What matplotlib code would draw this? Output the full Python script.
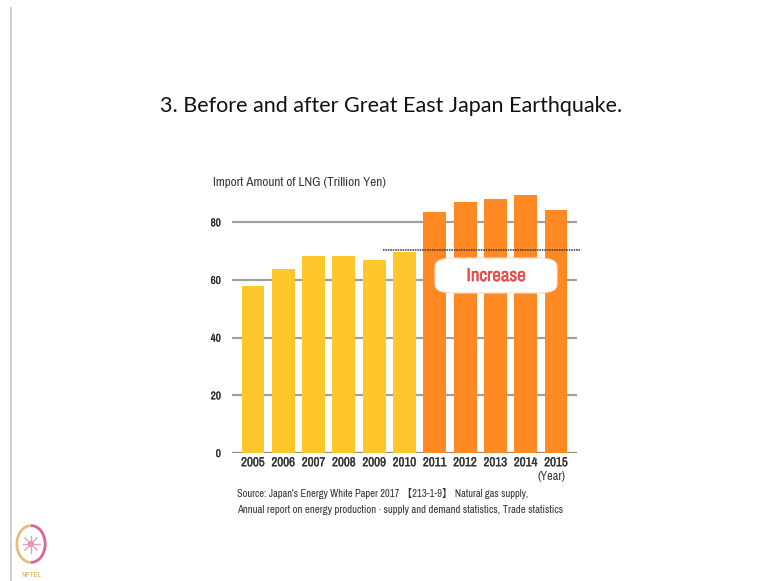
import matplotlib
matplotlib.use("Agg")
import matplotlib.pyplot as plt
from matplotlib.patches import FancyBboxPatch, Arc, Circle
from matplotlib.lines import Line2D
from matplotlib import font_manager as fm
import matplotlib.patheffects as pe
import numpy as np

years = ["2005", "2006", "2007", "2008", "2009", "2010",
         "2011", "2012", "2013", "2014", "2015"]
lng_import = [58.0, 63.8, 68.3, 68.3, 66.9, 69.6, 83.5, 87.1, 87.9, 89.6, 84.1]
yticks = [0, 20, 40, 60, 80]
before_color = "#FFC72C"
after_color = "#FF8A24"
n_before = 6
ref_level = 70.4

# pick a condensed font if one is installed, else Roboto
narrow_name = None
for f in fm.fontManager.ttflist:
    if ("Narrow" in f.name or "Condensed" in f.name) and f.style == "normal":
        narrow_name = f.name
        break
NARROW = [narrow_name, "Roboto", "DejaVu Sans"] if narrow_name else ["Roboto", "DejaVu Sans"]
TITLEF = ["Lato", "DejaVu Sans"]

W, H = 764, 581
fig = plt.figure(figsize=(W / 100, H / 100), dpi=100)
fig.patch.set_facecolor("white")
renderer = fig.canvas.get_renderer()


def fit_width(t, target_px):
    for _ in range(3):
        w = t.get_window_extent(renderer=renderer).width
        if w > 0:
            t.set_fontsize(t.get_fontsize() * target_px / w)
    return t


def size_for(text, target_px, **kw):
    t = fig.text(0, 0, text, fontsize=10, **kw)
    fit_width(t, target_px)
    fs = t.get_fontsize()
    t.remove()
    return fs


x_left, x_right, y_zero, px_per_unit = 232, 577, 453, 2.885
ytop = 92
ax = fig.add_axes([x_left / W, (H - y_zero) / H, (x_right - x_left) / W,
                   ytop * px_per_unit / H])
ax.set_xlim(-0.69, 10.69)
ax.set_ylim(0, ytop)
for s in ax.spines.values():
    s.set_visible(False)

idx = np.arange(len(years))
colors = [before_color if i < n_before else after_color for i in idx]
for yv in yticks:
    ax.axhline(yv, color="#a0a0a0" if yv else "#8a8a8a", lw=1.6, zorder=1)
ax.bar(idx, lng_import, width=0.75, color=colors, zorder=2)

fs_x = size_for("2005", 23.5, fontfamily=NARROW)
fs_y = size_for("80", 10, fontfamily=NARROW)

ax.set_yticks(yticks)
ylabs = ax.set_yticklabels([str(v) for v in yticks], fontfamily=NARROW,
                           fontsize=fs_y, color="#2a2a2a")
ax.tick_params(axis="y", length=0, pad=8, labelsize=fs_y)
ax.set_xticks(idx)
xlabs = ax.set_xticklabels(years, fontfamily=NARROW, fontsize=fs_x,
                           color="#333333")
ax.tick_params(axis="x", length=0, pad=3, labelsize=fs_x)
for t in xlabs:
    t.set_path_effects([pe.withStroke(linewidth=0.2, foreground="#333333")])
for t in ylabs:
    t.set_path_effects([pe.withStroke(linewidth=0.15, foreground="#2a2a2a")])

# dotted reference line
xs = lambda px: (px - 253) / 30.3
ax.plot([xs(383), xs(580)], [ref_level, ref_level], color="#333344", lw=1.1,
        ls=(0, (1.0, 0.6)), zorder=4, clip_on=False)

# Increase box
bx0, bx1 = xs(435), xs(557)
by0 = (y_zero - 293) / px_per_unit
by1 = (y_zero - 258) / px_per_unit
box = FancyBboxPatch((bx0 + 0.3, by0 + 1.5), (bx1 - bx0) - 0.6, (by1 - by0) - 3.0,
                     boxstyle="round,pad=0.3,rounding_size=0.6",
                     mutation_aspect=5,
                     fc="white", ec="#f5dcc8", lw=0.8, zorder=5)
ax.add_patch(box)
inc = ax.text((bx0 + bx1) / 2, (by0 + by1) / 2 - 0.2, "Increase", ha="center",
              va="center", fontsize=12, fontfamily=NARROW,
              color="#E0504F", zorder=6,
              path_effects=[pe.withStroke(linewidth=0.35, foreground="#E0504F")])
fit_width(inc, 59)

# texts
title = fig.text(391 / W, 1 - 106 / H,
                 "3. Before and after Great East Japan Earthquake.",
                 ha="center", va="center", fontsize=15.5, fontfamily=TITLEF,
                 color="#111111")
fit_width(title, 462)
yl = fig.text(213 / W, 1 - 183 / H, "Import Amount of LNG (Trillion Yen)",
              ha="left", va="center", fontsize=8, fontfamily=NARROW,
              color="#3a3a3a")
fit_width(yl, 172)
yr = fig.text(566 / W, 1 - 477 / H, "(Year)", ha="right", va="center",
              fontsize=8, fontfamily=NARROW, color="#333333")
fit_width(yr, 28)
s1 = fig.text(237 / W, 1 - 493 / H,
              "Source: Japan's Energy White Paper 2017 \u3010213-1-9\u3011 Natural gas supply,",
              ha="left", va="center", fontsize=7.8,
              fontfamily=NARROW + ["Noto Sans CJK JP"], color="#333333")
fit_width(s1, 291)
s2 = fig.text(237 / W, 1 - 510 / H,
              "Annual report on energy production \u00b7 supply and demand statistics, Trade statistics",
              ha="left", va="center", fontsize=7.8, fontfamily=NARROW,
              color="#333333")
fit_width(s2, 326)

# left border line
fig.add_artist(Line2D([10.5 / W, 10.5 / W], [0, 1 - 8 / H], color="#c8c8c8", lw=1.2))

# NPTEL logo approximation
lax = fig.add_axes([14 / W, 1 - 566 / H, 34 / W, 44 / H])
lax.set_xlim(-1.2, 1.2)
lax.set_ylim(-1.5, 1.5)
lax.set_aspect("equal")
lax.axis("off")
lax.add_patch(Arc((0, 0), 2.0, 2.6, theta1=90, theta2=270, color="#e0b060", lw=2.0, alpha=0.8))
lax.add_patch(Arc((0, 0), 2.0, 2.6, theta1=-90, theta2=90, color="#d04080", lw=2.0, alpha=0.8))
for a in np.linspace(0, 2 * np.pi, 8, endpoint=False):
    lax.plot([0, 0.6 * np.cos(a)], [0, 0.6 * np.sin(a)], color="#e0a0b8", lw=1)
lax.add_patch(Circle((0, 0), 0.15, color="#d06090"))
fig.text(31 / W, 1 - 575 / H, "NPTEL", ha="center", va="center", fontsize=5.5,
         fontweight="bold", color="#e0b060", fontfamily=NARROW)

fig.savefig("out.png", dpi=100, facecolor="white")
